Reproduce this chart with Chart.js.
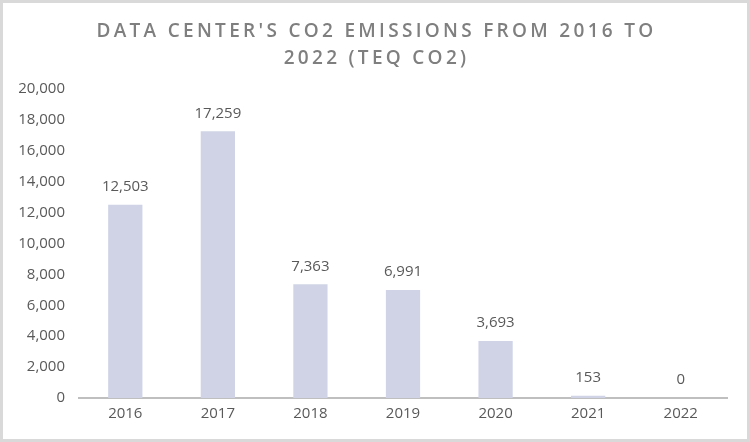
<!DOCTYPE html>
<html>
<head>
<meta charset="utf-8">
<script src="https://cdn.jsdelivr.net/npm/chart.js@4"></script>
<style>
	body { margin: 0; background: #fff; }
	#wrap { width: 750px; height: 442px; box-sizing: border-box; border: 3px solid #D9D9D9; background: #fff; }
	#co2Chart { display: block; }
</style>
</head>
<body>
<div id="wrap"><canvas id="co2Chart" width="744" height="436"></canvas></div>
<script>
var years = ["2016", "2017", "2018", "2019", "2020", "2021", "2022"];
var emissions = [12503, 17259, 7363, 6991, 3693, 153, 0];
var titleLines = ["DATA CENTER'S CO2 EMISSIONS FROM 2016 TO", "2022 (TEQ CO2)"];

document.addEventListener("DOMContentLoaded", function () {
	var ctx = document.getElementById("co2Chart").getContext("2d");

	// title with wide letter spacing, drawn by hand
	var titlePlugin = {
		id: "spacedTitle",
		afterDraw: function (chart) {
			var c = chart.ctx;
			c.save();
			c.font = "600 19px 'Open Sans'";
			c.fillStyle = "#7F7F7F";
			c.textAlign = "center";
			c.textBaseline = "middle";
			c.letterSpacing = "3.3px";
			c.fillText(titleLines[0], chart.width / 2 + 1.5, 29);
			c.fillText(titleLines[1], chart.width / 2 + 1.5, 56);
			c.restore();
		}
	};

	// value labels above each bar
	var valuePlugin = {
		id: "valueLabels",
		afterDatasetsDraw: function (chart) {
			var c = chart.ctx;
			var meta = chart.getDatasetMeta(0);
			c.save();
			c.font = "15px 'Open Sans'";
			c.fillStyle = "#595959";
			c.textAlign = "center";
			c.textBaseline = "middle";
			meta.data.forEach(function (bar, i) {
				c.fillText(emissions[i].toLocaleString("en-US"), bar.x, bar.y - 18);
			});
			c.restore();
		}
	};

	new Chart(ctx, {
		type: "bar",
		data: {
			labels: years,
			datasets: [
				{
					data: emissions,
					backgroundColor: "#CFD3E5",
					barPercentage: 0.37,
					categoryPercentage: 1,
				},
			],
		},
		options: {
			responsive: false,
			animation: false,
			layout: {
				padding: { top: 86, right: 20, bottom: 0, left: 0 },
			},
			plugins: {
				legend: { display: false },
				title: { display: false },
				tooltip: { enabled: false },
			},
			scales: {
				x: {
					grid: { display: false, drawTicks: false },
					border: { display: true, color: "#BFBFBF", width: 2 },
					ticks: {
						color: "#595959",
						padding: 7,
						font: { family: "'Open Sans'", size: 15 },
					},
					afterFit: function (scale) { scale.height = 41; },
				},
				y: {
					min: 0,
					max: 20000,
					grid: { display: false, drawTicks: false },
					border: { display: false },
					ticks: {
						stepSize: 2000,
						color: "#595959",
						padding: 14,
						font: { family: "'Open Sans'", size: 15 },
						callback: function (v) { return v.toLocaleString("en-US"); },
					},
					afterFit: function (scale) { scale.width = 76; },
				},
			},
		},
		plugins: [titlePlugin, valuePlugin],
	});
});
</script>
</body>
</html>
